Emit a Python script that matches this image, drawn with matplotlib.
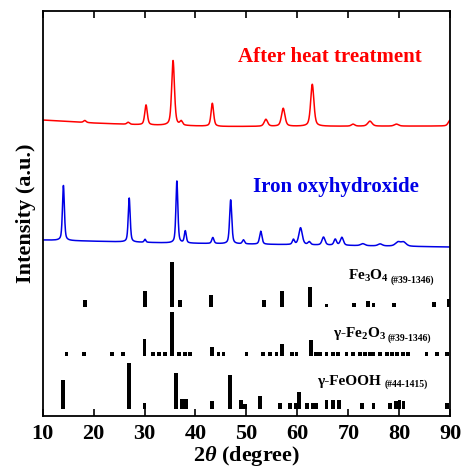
import numpy as np
import matplotlib
matplotlib.use("Agg")
import matplotlib.pyplot as plt

plt.rcParams['font.family'] = ['Liberation Serif', 'DejaVu Serif']
plt.rcParams['font.weight'] = 'bold'
plt.rcParams['mathtext.fontset'] = 'custom'
plt.rcParams['mathtext.rm'] = 'Liberation Serif:bold'
plt.rcParams['mathtext.bf'] = 'Liberation Serif:bold'
plt.rcParams['mathtext.it'] = 'Liberation Serif:bold:italic'

# ---- measured pattern: after heat treatment (red) ----
red_pos = [18.3, 26.8, 30.3, 35.6, 37.2, 43.3, 53.8, 57.2, 62.9, 70.9, 74.2, 79.4, 89.9]
red_h   = [2, 2, 20, 65, 4, 23, 7, 18, 42, 2, 5, 2, 6]
red_w   = [0.6, 0.6, 0.6, 0.65, 0.6, 0.6, 0.8, 0.8, 0.75, 0.8, 1.0, 1.0, 0.8]
red_bg_x = [10, 20, 30, 45, 90]
red_bg_y = [296, 293, 291, 289.5, 290]

# ---- measured pattern: iron oxyhydroxide (blue) ----
blue_pos = [14.1, 27.0, 30.1, 36.35, 38.0, 43.4, 46.9, 49.4, 52.8, 59.2, 60.6, 62.3,
            65.1, 67.4, 68.7, 72.8, 76.2, 79.7, 80.8]
blue_h   = [55, 44, 3, 62, 12, 6, 44, 4, 13, 5, 17, 3, 8, 6, 8, 2, 2, 4, 4]
blue_w   = [0.45, 0.45, 0.4, 0.45, 0.45, 0.5, 0.5, 0.5, 0.55, 0.5, 0.8, 0.6,
            0.7, 0.6, 0.7, 1.0, 1.0, 1.2, 1.2]
blue_bg_x = [10, 35, 90]
blue_bg_y = [176, 173, 169]

# ---- reference cards ----
fe3o4_pos = [18.3, 30.1, 35.4, 37.0, 43.1, 53.4, 57.0, 62.5, 65.7, 71.0, 73.9, 74.9,
             79.0, 86.7, 89.6]
fe3o4_h   = [7, 16, 45, 7, 12, 7, 16, 20, 3, 4, 6, 4, 4, 5, 8]
fe3o4_base = 109

fe2o3_pos = [14.7, 18.2, 23.6, 25.8, 30.0, 31.7, 32.9, 34.0, 35.4, 36.8, 37.9, 38.9,
             43.2, 44.5, 45.5, 50.0, 53.3, 54.6, 55.9, 56.9, 58.9, 59.8, 62.6, 63.6,
             64.4, 65.7, 67.0, 68.0, 69.6, 70.9, 72.3, 73.2, 74.2, 74.9, 76.2, 77.5,
             78.5, 79.5, 80.7, 81.7, 85.3, 87.3, 89.3]
fe2o3_h   = [4, 4, 4, 4, 17, 4, 4, 4, 44, 4, 4, 4,
             9, 4, 4, 4, 4, 4, 4, 12, 4, 4, 16, 4,
             4, 4, 4, 4, 4, 4, 4, 4, 4, 4, 4, 4,
             4, 4, 4, 4, 4, 4, 4]
fe2o3_base = 60

feooh_pos = [14.0, 27.0, 30.0, 36.2, 37.3, 38.1, 43.2, 46.8, 49.0, 49.7, 52.6, 56.6,
             58.5, 59.6, 60.3, 61.8, 63.0, 63.6, 65.7, 67.0, 68.2, 72.6, 74.9, 78.1,
             79.3, 80.0, 80.8, 89.3]
feooh_h   = [29, 46, 6, 36, 10, 10, 8, 34, 9, 5, 13, 6,
             6, 6, 17, 6, 6, 6, 9, 9, 9, 6, 6, 6,
             8, 9, 8, 6]
feooh_base = 7

x_ticks = [10, 20, 30, 40, 50, 60, 70, 80, 90]


def profile(x, pos, h, w):
    y = np.zeros_like(x)
    for p, a, fw in zip(pos, h, w):
        g = np.exp(-4 * np.log(2) * ((x - p) / fw) ** 2)
        l = 1.0 / (1 + 4 * ((x - p) / fw) ** 2)
        y += a * (0.5 * g + 0.5 * l)
    return y


x = np.linspace(10, 90, 4000)
y_red = np.interp(x, red_bg_x, red_bg_y) + profile(x, red_pos, red_h, red_w)
y_blue = np.interp(x, blue_bg_x, blue_bg_y) + profile(x, blue_pos, blue_h, blue_w)

fig = plt.figure(figsize=(4.61, 4.73), dpi=100)
ax = fig.add_axes([0.0922, 0.1205, 0.8850, 0.8562])

ax.plot(x, y_red, color='#ff0000', lw=1.1)
ax.plot(x, y_blue, color='#0000e6', lw=1.1)

bw = 0.75
ax.bar(fe3o4_pos, fe3o4_h, width=bw, bottom=fe3o4_base, color='black')
ax.bar(fe2o3_pos, fe2o3_h, width=bw, bottom=fe2o3_base, color='black')
ax.bar(feooh_pos, feooh_h, width=bw, bottom=feooh_base, color='black')

ax.text(66.4, 359, 'After heat treatment', color='#ff0000', fontsize=15,
        fontweight='bold', ha='center', va='center')
ax.text(67.5, 229, 'Iron oxyhydroxide', color='#0000e6', fontsize=15,
        fontweight='bold', ha='center', va='center')

# main label + smaller card number, the number sits right after the formula
labels = [(69.9, 136, 'Fe$_3$O$_4$', '(#39-1346)', 1),
          (67.0, 79, 'γ-Fe$_2$O$_3$', '(#39-1346)', 1),
          (63.8, 31, 'γ-FeOOH', '(#44-1415)', 3)]
for lx, ly, main, card, gap in labels:
    t = ax.text(lx, ly, main, fontsize=11, fontweight='bold', ha='left', va='baseline')
    ax.annotate(card, xy=(1, 0), xycoords=t, xytext=(gap, -1), textcoords='offset points',
                fontsize=7, fontweight='bold', ha='left', va='bottom')

ax.set_xlim(10, 90)
ax.set_ylim(0, 405)
ax.set_xticks(x_ticks)
ax.set_yticks([])
ax.tick_params(axis='x', direction='in', top=True, length=5, width=1.2,
               labelsize=16, pad=6)
for s in ax.spines.values():
    s.set_linewidth(1.3)

ax.set_xlabel(r'2$\theta$ (degree)', fontsize=16, fontweight='bold', labelpad=0)
ax.set_ylabel('Intensity (a.u.)', fontsize=16, fontweight='bold', labelpad=5)

fig.savefig('out.png', dpi=100)
